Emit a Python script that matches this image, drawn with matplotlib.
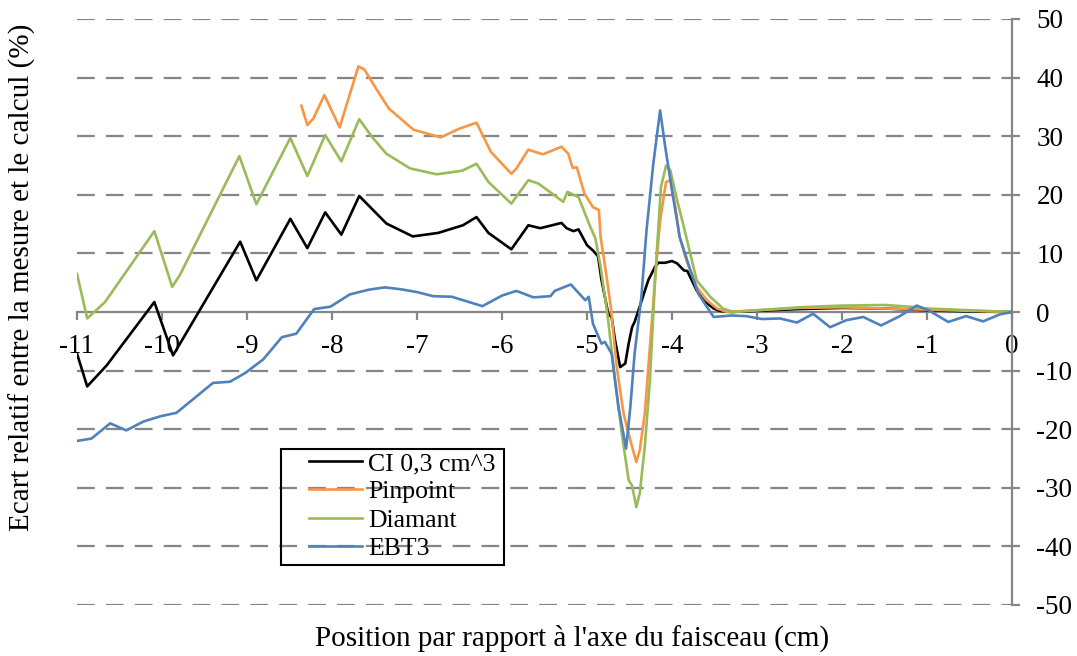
#!/usr/bin/env python3
"""
Relative deviation between measured and computed dose profiles
for four detectors (CI 0,3 cm^3, Pinpoint, Diamant, EBT3).
"""

import matplotlib
matplotlib.use('Agg')
import matplotlib.pyplot as plt
from matplotlib.patches import Rectangle

plt.rcParams['font.family'] = 'Liberation Serif'
plt.rcParams['font.size'] = 19.5

# --- data -----------------------------------------------------------------
ci_x = [-11.0, -10.88, -10.65, -10.09, -9.87, -9.08, -8.89, -8.49, -8.29, -8.08,
        -7.89, -7.68, -7.36, -7.05, -6.75, -6.46, -6.30, -6.16, -5.89, -5.69,
        -5.55, -5.30, -5.24, -5.16, -5.10, -5.00, -4.93, -4.87, -4.83, -4.75,
        -4.71, -4.67, -4.61, -4.55, -4.51, -4.47, -4.44, -4.38, -4.28, -4.20,
        -4.16, -4.08, -4.00, -3.94, -3.86, -3.82, -3.71, -3.63, -3.51, -3.44,
        -3.3, -3.0, -2.5, -2.0, -1.5, -1.0, -0.5, 0.0]
ci_y = [-7.1, -12.7, -9.1, 1.7, -7.4, 12.0, 5.4, 15.9, 10.9, 17.0,
        13.2, 19.8, 15.1, 12.9, 13.5, 14.8, 16.2, 13.5, 10.7, 14.8,
        14.3, 15.2, 14.3, 13.8, 14.1, 11.4, 10.5, 9.5, 5.5, -0.3,
        -0.9, -4.8, -9.4, -8.8, -5.4, -2.6, -1.7, 0.9, 5.4, 7.7,
        8.4, 8.4, 8.7, 8.3, 7.1, 7.0, 3.7, 2.0, 0.6, 0.2,
        0.0, 0.2, 0.5, 0.7, 0.6, 0.3, 0.1, 0.0]

pinpoint_x = [-8.36, -8.29, -8.22, -8.09, -7.91, -7.69, -7.62, -7.48, -7.33, -7.04,
              -6.72, -6.50, -6.30, -6.13, -5.89, -5.83, -5.69, -5.52, -5.30, -5.22,
              -5.17, -5.12, -5.03, -4.93, -4.86, -4.84, -4.78, -4.72, -4.65, -4.57,
              -4.49, -4.42, -4.38, -4.32, -4.26, -4.20, -4.14, -4.07, -4.02, -3.96,
              -3.91, -3.83, -3.71, -3.59, -3.47, -3.35, -3.0, -2.5, -2.0, -1.5,
              -1.0, -0.5, 0.0]
pinpoint_y = [35.2, 31.9, 33.0, 37.0, 31.5, 41.9, 41.4, 38.1, 34.7, 31.1,
              29.8, 31.3, 32.3, 27.3, 23.6, 24.5, 27.7, 26.9, 28.2, 27.0,
              24.6, 24.7, 20.2, 17.9, 17.4, 12.8, 7.1, 0.9, -9.4, -17.3,
              -21.9, -25.6, -23.6, -17.3, -6.0, 5.4, 15.6, 22.2, 22.5, 17.9,
              12.8, 8.8, 4.3, 2.0, 0.6, 0.0, 0.3, 0.7, 0.8, 0.6,
              0.4, 0.2, 0.0]

diamant_x = [-11.0, -10.88, -10.67, -10.09, -9.88, -9.79, -9.09, -8.89, -8.49, -8.29,
             -8.08, -7.89, -7.68, -7.53, -7.36, -7.08, -6.77, -6.47, -6.30, -6.16,
             -5.89, -5.69, -5.57, -5.28, -5.23, -5.10, -4.96, -4.90, -4.84, -4.76,
             -4.67, -4.59, -4.51, -4.47, -4.42, -4.38, -4.32, -4.26, -4.20, -4.13,
             -4.07, -4.02, -3.94, -3.86, -3.71, -3.55, -3.40, -3.28, -3.0, -2.5,
             -2.0, -1.5, -1.2, -1.0, -0.5, 0.0]
diamant_y = [6.5, -1.1, 1.7, 13.8, 4.3, 6.3, 26.6, 18.4, 29.7, 23.2,
             30.2, 25.7, 32.9, 29.9, 27.0, 24.5, 23.5, 24.1, 25.3, 22.2,
             18.5, 22.5, 21.9, 18.8, 20.5, 19.6, 14.5, 12.5, 7.7, -0.3,
             -11.7, -20.8, -28.7, -29.6, -33.3, -31.0, -23.0, -11.7, 5.4, 21.3,
             25.0, 24.2, 19.1, 14.5, 5.4, 2.6, 0.6, 0.0, 0.3, 0.8,
             1.1, 1.2, 0.9, 0.6, 0.3, 0.0]

ebt3_x = [-11.0, -10.83, -10.61, -10.42, -10.22, -10.02, -9.83, -9.61, -9.40, -9.20, -9.02,
          -8.81, -8.59, -8.42, -8.21, -8.02, -7.79, -7.57, -7.38, -7.20, -7.00,
          -6.81, -6.59, -6.41, -6.23,
          -6.00, -5.83, -5.63, -5.43, -5.38, -5.19, -5.02, -4.98,
          -4.93, -4.83, -4.79, -4.71, -4.63, -4.54, -4.49, -4.44, -4.36, -4.30,
          -4.22, -4.14, -4.08, -4.00, -3.91, -3.81, -3.69, -3.59, -3.51,
          -3.31, -3.13, -2.94, -2.73, -2.53, -2.34, -2.14, -1.95, -1.75,
          -1.54, -1.32, -1.12, -0.97, -0.75, -0.54, -0.34, -0.14, 0.0]
ebt3_y = [-22.0, -21.6, -19.0, -20.2, -18.7, -17.8, -17.2, -14.6, -12.1, -11.9, -10.4,
          -8.1, -4.3, -3.7, 0.5, 0.9, 3.0, 3.8, 4.2, 3.9, 3.4,
          2.7, 2.6, 1.8, 1.0,
          2.8, 3.6, 2.5, 2.7, 3.6, 4.7, 2.0, 2.6,
          -2.0, -5.4, -5.1, -7.1, -16.2, -23.3, -16.2, -7.1, 2.6, 13.9,
          25.3, 34.4, 28.2, 20.8, 12.8, 8.3, 3.1, 0.9, -0.85,
          -0.6, -0.7, -1.2, -1.1, -1.8, -0.3, -2.6, -1.4, -0.85,
          -2.3, -0.7, 1.1, 0.2, -1.7, -0.7, -1.6, -0.4, 0.0]

series = [
    ('CI 0,3 cm^3', ci_x, ci_y, '#000000'),
    ('Pinpoint', pinpoint_x, pinpoint_y, '#F79646'),
    ('Diamant', diamant_x, diamant_y, '#9BBB59'),
    ('EBT3', ebt3_x, ebt3_y, '#4F81BD'),
]

x_ticks = list(range(-11, 1))
y_ticks = list(range(-50, 51, 10))

AXIS_GRAY = '#868686'
W, H = 1077, 656

# --- figure ---------------------------------------------------------------
fig = plt.figure(figsize=(W / 100, H / 100), dpi=100)
ax = fig.add_axes([77 / W, 1 - 605 / H, 935 / W, 586 / H])

for label, xs, ys, color in series:
    ax.plot(xs, ys, color=color, linewidth=1.9, label=label, zorder=3,
            solid_joinstyle='round')

ax.set_xlim(-11, 0)
ax.set_ylim(-50, 50)

# dashed horizontal gridlines
for yv in y_ticks:
    if yv != 0:
        ax.axhline(yv, color=AXIS_GRAY, linewidth=1.6, linestyle=(0, (8, 5)), zorder=1)

# x axis crosses at y = 0, value axis on the right
ax.spines['left'].set_visible(False)
ax.spines['top'].set_visible(False)
ax.spines['bottom'].set_position(('data', 0))
ax.spines['bottom'].set_color(AXIS_GRAY)
ax.spines['bottom'].set_linewidth(1.6)
ax.spines['right'].set_color(AXIS_GRAY)
ax.spines['right'].set_linewidth(1.6)

ax.set_xticks(x_ticks)
ax.set_xticklabels([str(v) for v in x_ticks])
ax.yaxis.tick_right()
ax.set_yticks(y_ticks)
ax.set_yticklabels([str(v) for v in y_ticks])
ax.tick_params(axis='x', direction='out', length=6, width=1.6, color=AXIS_GRAY,
               labelsize=19.5, pad=10)
ax.tick_params(axis='y', direction='out', length=5.5, width=1.6, color=AXIS_GRAY,
               labelsize=19.5, pad=12)

fig.text(572 / W, 1 - 638 / H, "Position par rapport à l'axe du faisceau (cm)",
         ha='center', va='center', fontsize=21)
fig.text(22 / W, 1 - 277 / H, 'Ecart relatif entre la mesure et le calcul (%)',
         ha='center', va='center', rotation=90, fontsize=21)

# legend entries, with a square black frame drawn around them
leg = ax.legend(loc='upper left', bbox_to_anchor=(309 / W, 1 - 452 / H),
                bbox_transform=fig.transFigure, frameon=False, fontsize=18.5,
                borderpad=0, handlelength=2.05, handletextpad=0.25,
                labelspacing=0.21, borderaxespad=0)
fig.canvas.draw()
bb = leg.get_window_extent(fig.canvas.get_renderer())
box_left, box_top, box_bottom = 281, 449, 565
box_right = bb.x1 + 8
fig.patches.append(Rectangle((box_left / W, 1 - box_bottom / H),
                             (box_right - box_left) / W, (box_bottom - box_top) / H,
                             transform=fig.transFigure, facecolor='none',
                             edgecolor='black', linewidth=1.5, zorder=5))

fig.savefig('out.png', dpi=100, facecolor='white')
plt.close(fig)
